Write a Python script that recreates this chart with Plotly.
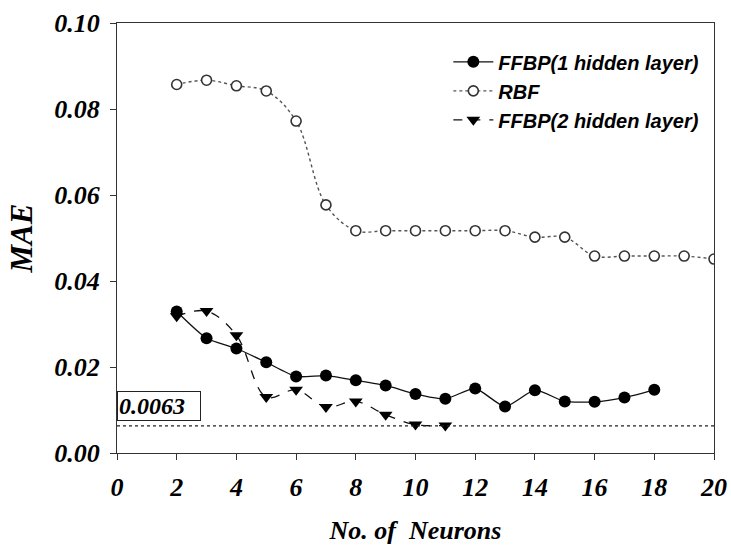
import plotly.graph_objects as go

# Mean absolute error versus number of hidden neurons for three network types
neurons_rbf = [2, 3, 4, 5, 6, 7, 8, 9, 10, 11, 12, 13, 14, 15, 16, 17, 18, 19, 20]
mae_rbf = [0.0857, 0.0867, 0.0854, 0.0842, 0.0772, 0.0577, 0.0517, 0.0517, 0.0517,
           0.0517, 0.0517, 0.0517, 0.0502, 0.0502, 0.0458, 0.0458, 0.0458, 0.0458, 0.0451]

neurons_ffbp1 = [2, 3, 4, 5, 6, 7, 8, 9, 10, 11, 12, 13, 14, 15, 16, 17, 18]
mae_ffbp1 = [0.0329, 0.0267, 0.0243, 0.0211, 0.0178, 0.0180, 0.0169, 0.0157, 0.0137,
             0.0126, 0.0150, 0.0108, 0.0146, 0.0120, 0.0119, 0.0129, 0.0147]

neurons_ffbp2 = [2, 3, 4, 5, 6, 7, 8, 9, 10, 11]
mae_ffbp2 = [0.0318, 0.0330, 0.0274, 0.0130, 0.0147, 0.0107, 0.0120, 0.0089, 0.0066, 0.0064]

target_mae = 0.0063
target_label = "0.0063"

x_ticks = [0, 2, 4, 6, 8, 10, 12, 14, 16, 18, 20]
y_ticks = [0.00, 0.02, 0.04, 0.06, 0.08, 0.10]
y_tick_text = ["0.00", "0.02", "0.04", "0.06", "0.08", "0.10"]

serif = "Liberation Serif"
sans = "Liberation Sans"

fig = go.Figure()

fig.add_trace(go.Scatter(
    x=neurons_ffbp1, y=mae_ffbp1, name="FFBP(1 hidden layer)",
    mode="lines+markers",
    line=dict(color="#111111", width=1.3, shape="spline", smoothing=0.6),
    marker=dict(symbol="circle", size=12, color="#000000"),
))
fig.add_trace(go.Scatter(
    x=neurons_rbf, y=mae_rbf, name="RBF",
    mode="lines+markers",
    line=dict(color="#555555", width=1.4, dash="dot", shape="spline", smoothing=1),
    marker=dict(symbol="circle", size=10, color="white",
                line=dict(color="#333333", width=1.6)),
))
fig.add_trace(go.Scatter(
    x=neurons_ffbp2, y=mae_ffbp2, name="FFBP(2 hidden layer)",
    mode="lines+markers",
    line=dict(color="#111111", width=1.3, dash="dash", shape="spline", smoothing=1),
    marker=dict(symbol="triangle-down", size=12, color="#000000"),
))

# Target error level
fig.add_trace(go.Scatter(
    x=[x_ticks[0], x_ticks[-1]], y=[target_mae, target_mae],
    mode="lines", showlegend=False, hoverinfo="skip",
    line=dict(color="#222222", width=1.4, dash="dot"),
))

fig.add_annotation(
    x=0, xref="paper", xanchor="left",
    y=target_mae, yref="y", yanchor="bottom", yshift=5,
    text=target_label, showarrow=False,
    font=dict(family=serif, size=24, color="black", weight="bold", style="italic"),
    bordercolor="#222222", borderwidth=1, borderpad=1, bgcolor="white",
    width=80, align="left",
)

axis_common = dict(
    showline=True, linecolor="#333333", linewidth=1.2, mirror=True,
    ticks="outside", ticklen=6, tickcolor="#333333", tickwidth=1.2,
    showgrid=False, zeroline=False, automargin=False,
)

fig.update_xaxes(
    range=[0, 20], tickvals=x_ticks, ticktext=[str(v) for v in x_ticks],
    tickfont=dict(family=serif, size=26, color="black", weight="bold", style="italic"),
    title=dict(text="No. of  Neurons", standoff=20,
               font=dict(family=serif, size=26, color="black", weight="bold", style="italic")),
    ticklabelstandoff=5,
    **axis_common,
)
fig.update_yaxes(
    range=[0, 0.10], tickvals=y_ticks, ticktext=y_tick_text,
    tickfont=dict(family=serif, size=26, color="black", weight="bold", style="italic"),
    title=dict(text="MAE", standoff=12,
               font=dict(family=serif, size=31, color="black", weight="bold", style="italic")),
    ticklabelstandoff=5,
    **axis_common,
)

fig.update_layout(
    width=731, height=545,
    margin=dict(l=117, r=17, t=23, b=92),
    paper_bgcolor="white", plot_bgcolor="white",
    showlegend=True,
    legend=dict(
        x=0.555, y=0.955, xanchor="left", yanchor="top",
        bgcolor="rgba(0,0,0,0)", borderwidth=0,
        font=dict(family=sans, size=20, color="black", weight="bold", style="italic"),
        itemwidth=40, tracegroupgap=0,
    ),
)

fig.write_html("out.html")
